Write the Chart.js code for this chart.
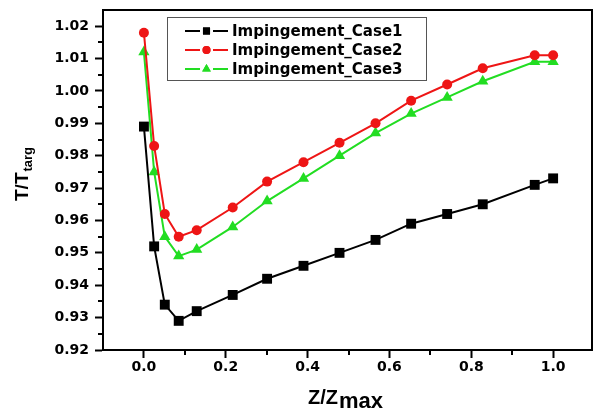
<!DOCTYPE html>
<html>
<head>
<meta charset="utf-8">
<script src="https://cdn.jsdelivr.net/npm/chart.js@4.4.1/dist/chart.umd.min.js"></script>
<style>
  html, body { margin: 0; padding: 0; background: #ffffff; }
  #wrap { width: 593px; height: 414px; }
</style>
</head>
<body>
<div id="wrap"><canvas id="c" width="593" height="414"></canvas></div>
<script>
// ---- Data ----
const zValues = [0.0, 0.025, 0.051, 0.085, 0.129, 0.217, 0.301, 0.390, 0.478, 0.566, 0.653, 0.741, 0.828, 0.955, 1.0];
const case1 = [0.989, 0.952, 0.934, 0.929, 0.932, 0.937, 0.942, 0.946, 0.950, 0.954, 0.959, 0.962, 0.965, 0.971, 0.973];
const case2 = [1.018, 0.983, 0.962, 0.955, 0.957, 0.964, 0.972, 0.978, 0.984, 0.990, 0.997, 1.002, 1.007, 1.011, 1.011];
const case3 = [1.012, 0.975, 0.955, 0.949, 0.951, 0.958, 0.966, 0.973, 0.980, 0.987, 0.993, 0.998, 1.003, 1.009, 1.009];
const seriesNames = ['Impingement_Case1', 'Impingement_Case2', 'Impingement_Case3'];
const xTickValues = [0.0, 0.2, 0.4, 0.6, 0.8, 1.0];
const yTickValues = [0.92, 0.93, 0.94, 0.95, 0.96, 0.97, 0.98, 0.99, 1.00, 1.01, 1.02];
const xMinorTicks = [-0.1, 0.1, 0.3, 0.5, 0.7, 0.9];
const yMinorTicks = [0.925, 0.935, 0.945, 0.955, 0.965, 0.975, 0.985, 0.995, 1.005, 1.015];

const COLORS = ['#000000', '#ee1515', '#22dd22'];
const STYLES = ['rect', 'circle', 'triangle'];
const RADII = [7, 5, 6.5];
const LEGEND_RADII = [5, 4, 5];

function toPoints(arr) { return zValues.map((z, i) => ({ x: z, y: arr[i] })); }

const seriesData = [case1, case2, case3];
const datasets = seriesData.map((arr, i) => ({
  label: seriesNames[i],
  data: toPoints(arr),
  showLine: true,
  borderColor: COLORS[i],
  backgroundColor: COLORS[i],
  borderWidth: 2,
  pointStyle: STYLES[i],
  pointRadius: RADII[i],
  pointHoverRadius: RADII[i],
  pointBorderWidth: 0,
  tension: 0
}));

function drawMarker(ctx, style, r, x, y, color) {
  ctx.save();
  ctx.fillStyle = color;
  ctx.strokeStyle = color;
  if (Chart.helpers && Chart.helpers.drawPoint) {
    Chart.helpers.drawPoint(ctx, { pointStyle: style, radius: r, borderWidth: 0, rotation: 0 }, x, y);
    ctx.fill();
  }
  ctx.restore();
}

function zeroPad(s) { s.paddingLeft = 0; s.paddingRight = 0; s.paddingTop = 0; s.paddingBottom = 0; }

const decorPlugin = {
  id: 'decor',
  afterDraw(chart) {
    const ctx = chart.ctx;
    const a = chart.chartArea;
    const xs = chart.scales.x, ys = chart.scales.y;
    ctx.save();
    // frame
    ctx.strokeStyle = '#000';
    ctx.lineWidth = 2;
    ctx.strokeRect(a.left, a.top, a.right - a.left, a.bottom - a.top);
    // minor ticks
    ctx.beginPath();
    yMinorTicks.forEach(v => {
      const py = Math.round(ys.getPixelForValue(v));
      ctx.moveTo(a.left, py); ctx.lineTo(a.left - 5, py);
    });
    xMinorTicks.forEach(v => {
      const px = Math.round(xs.getPixelForValue(v));
      if (px > a.left + 1 && px < a.right - 1) { ctx.moveTo(px, a.bottom); ctx.lineTo(px, a.bottom + 5); }
    });
    ctx.stroke();

    // legend
    const lx = 167, ly = 17, lw = 259, lh = 63;
    ctx.fillStyle = '#fff';
    ctx.fillRect(lx, ly, lw, lh);
    ctx.strokeStyle = '#555';
    ctx.lineWidth = 1;
    ctx.strokeRect(lx + 0.5, ly + 0.5, lw, lh);
    const rows = [31, 50, 69];
    ctx.font = 'bold 15px "DejaVu Sans", sans-serif';
    ctx.textBaseline = 'middle';
    ctx.textAlign = 'left';
    rows.forEach((ry, i) => {
      ctx.strokeStyle = COLORS[i];
      ctx.lineWidth = 2;
      ctx.beginPath();
      ctx.moveTo(185, ry); ctx.lineTo(200, ry);
      ctx.moveTo(213, ry); ctx.lineTo(228, ry);
      ctx.stroke();
      drawMarker(ctx, STYLES[i], LEGEND_RADII[i], 206.5, ry, COLORS[i]);
      ctx.fillStyle = '#000';
      ctx.fillText(seriesNames[i], 232, ry + 1);
    });

    // y title: T/T_targ
    ctx.fillStyle = '#000';
    ctx.save();
    ctx.translate(28, 201);
    ctx.rotate(-Math.PI / 2);
    ctx.textBaseline = 'alphabetic';
    ctx.textAlign = 'left';
    ctx.font = 'bold 19px "Liberation Sans", Arial, sans-serif';
    ctx.fillText('T/T', 0, 0);
    const w1 = ctx.measureText('T/T').width;
    ctx.font = 'bold 13px "Liberation Sans", Arial, sans-serif';
    ctx.fillText('targ', w1 + 1, 4);
    ctx.restore();

    // x title: Z/Z_max
    ctx.textBaseline = 'alphabetic';
    ctx.textAlign = 'left';
    ctx.font = 'bold 20px "Liberation Sans", Arial, sans-serif';
    ctx.fillText('Z/Z', 308, 404);
    const w2 = ctx.measureText('Z/Z').width;
    ctx.font = 'bold 22px "Liberation Sans", Arial, sans-serif';
    ctx.fillText('max', 308 + w2 + 1, 408);
    ctx.restore();
  }
};

new Chart(document.getElementById('c'), {
  type: 'scatter',
  data: { datasets },
  plugins: [decorPlugin],
  options: {
    responsive: false,
    devicePixelRatio: 1,
    animation: false,
    layout: { autoPadding: false, padding: { top: 10, right: 1, left: 0, bottom: 0 } },
    plugins: { legend: { display: false }, tooltip: { enabled: false } },
    scales: {
      x: {
        type: 'linear',
        min: -0.1, max: 1.095,
        afterFit(s) { s.height = 64; zeroPad(s); },
        afterBuildTicks(s) { s.ticks = xTickValues.map(v => ({ value: v })); },
        grid: { display: true, drawOnChartArea: false, drawTicks: true, tickLength: 8, tickWidth: 2, tickColor: '#000' },
        border: { display: true, color: '#000', width: 2 },
        ticks: { color: '#000', font: { family: '"DejaVu Sans", sans-serif', weight: 'bold', size: 14 }, padding: 1, maxRotation: 0, autoSkip: false,
          callback: v => Number(v).toFixed(1) }
      },
      y: {
        type: 'linear',
        min: 0.92, max: 1.025,
        afterFit(s) { s.width = 103; zeroPad(s); },
        afterBuildTicks(s) { s.ticks = yTickValues.map(v => ({ value: v })); },
        grid: { display: true, drawOnChartArea: false, drawTicks: true, tickLength: 8, tickWidth: 2, tickColor: '#000' },
        border: { display: true, color: '#000', width: 2 },
        ticks: { color: '#000', font: { family: '"DejaVu Sans", sans-serif', weight: 'bold', size: 14 }, padding: 6, autoSkip: false,
          callback: v => Number(v).toFixed(2) }
      }
    }
  }
});
</script>
</body>
</html>
